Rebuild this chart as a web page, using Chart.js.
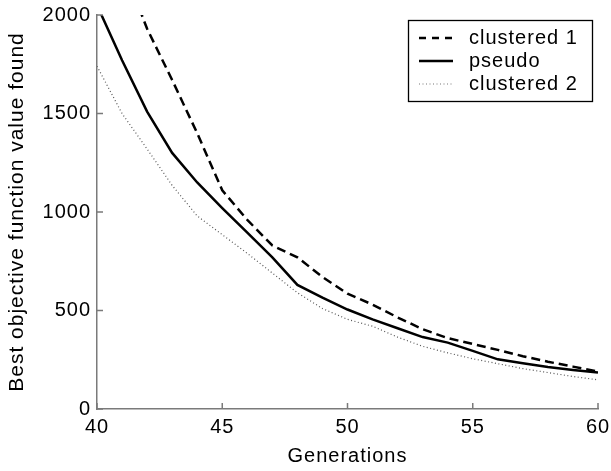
<!DOCTYPE html>
<html>
<head>
<meta charset="utf-8">
<script src="https://cdn.jsdelivr.net/npm/chart.js@4/dist/chart.umd.min.js"></script>
<style>
  html, body { margin: 0; padding: 0; background: #fff; }
  #wrap { width: 611px; height: 471px; }
</style>
</head>
<body>
<div id="wrap"><canvas id="c" width="611" height="471"></canvas></div>
<script>
const generations = [40,41,42,43,44,45,46,47,48,49,50,51,52,53,54,55,56,57,58,59,60];
const clustered1 = [2560,2260,1930,1670,1400,1110,960,830,770,670,585,530,465,405,360,330,300,268,240,215,190];
const pseudo     = [2050,1770,1510,1300,1150,1020,895,770,630,565,505,455,410,365,337,295,252,232,213,198,185];
const clustered2 = [1740,1500,1320,1135,980,885,790,690,590,510,455,420,365,318,285,255,230,205,185,165,148];
const seriesNames = ['clustered 1', 'pseudo', 'clustered 2'];
const xTicks = [40,45,50,55,60];
const yTicks = [0,500,1000,1500,2000];
const xTitle = 'Generations';
const yTitle = 'Best objective function value found';

const FONT = "'Liberation Sans', Arial, Helvetica, sans-serif";
const AXIS = '#7a7a7a';

function pts(ys) { return generations.map((g, i) => ({ x: g, y: ys[i] })); }

const spacing = {
  id: 'spacing',
  beforeInit(chart) { try { chart.ctx.letterSpacing = '1px'; } catch (e) {} },
  beforeDraw(chart) { try { chart.ctx.letterSpacing = '1px'; } catch (e) {} }
};

const inwardTicks = {
  id: 'inwardTicks',
  afterDatasetsDraw(chart) {
    const { ctx, chartArea: a, scales: { x, y } } = chart;
    ctx.save();
    ctx.strokeStyle = AXIS;
    ctx.lineWidth = 1.5;
    ctx.setLineDash([]);
    ctx.beginPath();
    yTicks.forEach(v => { const p = y.getPixelForValue(v); ctx.moveTo(a.left, p); ctx.lineTo(a.left + 6, p); });
    xTicks.forEach(v => { const p = x.getPixelForValue(v); ctx.moveTo(p, a.bottom); ctx.lineTo(p, a.bottom - 6); });
    ctx.stroke();
    ctx.restore();
  }
};

const boxLegend = {
  id: 'boxLegend',
  afterDraw(chart, args, opts) {
    const { ctx } = chart;
    const { left, top, width, height, rowY, lineX0, lineX1, textX } = opts;
    ctx.save();
    ctx.fillStyle = '#fff';
    ctx.fillRect(left, top, width, height);
    ctx.strokeStyle = '#000';
    ctx.lineWidth = 1.3;
    ctx.strokeRect(left + 0.5, top + 0.5, width, height);
    chart.data.datasets.forEach((ds, i) => {
      const yy = rowY[i];
      ctx.beginPath();
      ctx.strokeStyle = ds.legendColor || ds.borderColor;
      ctx.lineWidth = ds.borderWidth;
      ctx.setLineDash(ds.legendDash || ds.borderDash || []);
      ctx.moveTo(lineX0, yy);
      ctx.lineTo(lineX1, yy);
      ctx.stroke();
      ctx.setLineDash([]);
      ctx.fillStyle = '#000';
      ctx.font = '20px ' + FONT;
      ctx.textBaseline = 'middle';
      ctx.textAlign = 'left';
      ctx.fillText(ds.label, textX, yy);
    });
    ctx.restore();
  }
};

new Chart(document.getElementById('c'), {
  type: 'line',
  data: {
    datasets: [
      { label: seriesNames[0], data: pts(clustered1), borderColor: '#000', borderWidth: 2.5, borderDash: [9, 5], legendDash: [7, 6], pointRadius: 0, tension: 0, fill: false, clip: 0 },
      { label: seriesNames[1], data: pts(pseudo), borderColor: '#000', borderWidth: 2.5, pointRadius: 0, tension: 0, fill: false, clip: 0 },
      { label: seriesNames[2], data: pts(clustered2), borderColor: '#555', legendColor: '#777', borderWidth: 1.2, borderDash: [1, 2.5], pointRadius: 0, tension: 0, fill: false, clip: 0 }
    ]
  },
  options: {
    responsive: false,
    animation: false,
    devicePixelRatio: 1,
    layout: { padding: { left: 0, right: 13, top: 15, bottom: 0 } },
    font: { family: FONT, size: 20 },
    plugins: {
      legend: { display: false },
      tooltip: { enabled: false },
      boxLegend: { left: 408, top: 20, width: 184, height: 81, rowY: [38, 61, 84], lineX0: 419, lineX1: 453, textX: 469 }
    },
    scales: {
      x: {
        type: 'linear', min: 40, max: 60,
        afterBuildTicks(s) { s.ticks = xTicks.map(v => ({ value: v })); },
        afterFit(s) { s.height = 62; s.paddingLeft = 0; s.paddingRight = 0; },
        grid: { display: true, drawOnChartArea: false, drawTicks: false },
        border: { display: true, color: AXIS, width: 1.5 },
        ticks: { color: '#000', font: { family: FONT, size: 20 }, padding: 6, maxRotation: 0, autoSkip: false, callback: v => String(v) },
        title: { display: true, text: xTitle, color: '#000', font: { family: FONT, size: 20 }, padding: { top: 0, bottom: 3 } }
      },
      y: {
        type: 'linear', min: 0, max: 2000,
        afterBuildTicks(s) { s.ticks = yTicks.map(v => ({ value: v })); },
        afterFit(s) { s.width = 97; s.paddingTop = 0; s.paddingBottom = 0; },
        grid: { display: true, drawOnChartArea: false, drawTicks: false },
        border: { display: true, color: AXIS, width: 1.5 },
        ticks: { color: '#000', font: { family: FONT, size: 20 }, padding: 6, autoSkip: false, callback: v => String(v) },
        title: { display: true, text: yTitle, color: '#000', font: { family: FONT, size: 21 }, padding: { top: 5, bottom: 0 } }
      }
    }
  },
  plugins: [spacing, inwardTicks, boxLegend]
});
</script>
</body>
</html>
